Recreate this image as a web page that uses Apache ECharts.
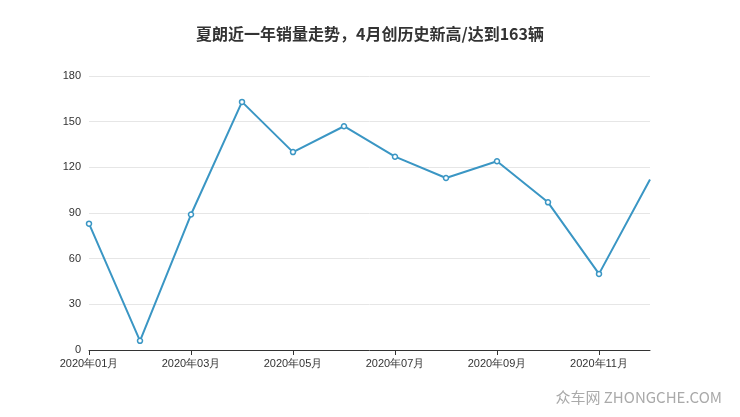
<!DOCTYPE html>
<html><head><meta charset="utf-8">
<script src="https://cdn.jsdelivr.net/npm/echarts@6/dist/echarts.min.js"></script>
<style>html,body{margin:0;padding:0;background:#fff}#c{width:740px;height:417px}</style>
</head><body><div id="c"></div>
<script>
const categories=['2020年01月','2020年02月','2020年03月','2020年04月','2020年05月','2020年06月','2020年07月','2020年08月','2020年09月','2020年10月','2020年11月','2020年12月'];
const sales=[83,6,89,163,130,147,127,113,124,97,50,112];
const chart=echarts.init(document.getElementById('c'));
chart.setOption({
  animation:false,
  title:{text:'夏朗近一年销量走势，4月创历史新高/达到163辆',left:'center',top:21,textStyle:{fontSize:16,fontWeight:'bold',color:'#333',fontFamily:'Noto Sans CJK SC'}},
  graphic:[{type:'text',right:18,bottom:12,style:{text:'众车网 ZHONGCHE.COM',fill:'#aaa',fontSize:15,fontFamily:'Noto Sans CJK SC'}}],
  grid:{left:89,right:90,top:76,bottom:67},
  xAxis:{type:'category',data:categories,boundaryGap:false,
    axisLine:{lineStyle:{color:'#333'}},axisTick:{interval:1,lineStyle:{color:'#333'}},
    axisLabel:{interval:1,color:'#333',fontSize:11}},
  yAxis:{type:'value',min:0,max:180,interval:30,axisLine:{show:false},axisTick:{show:false},
    axisLabel:{color:'#333',fontSize:11},splitLine:{lineStyle:{color:'#e6e6e6'}}},
  series:[{type:'line',data:sales,symbol:'circle',symbolSize:5,showAllSymbol:true,
    symbolSize:(v,p)=>p.dataIndex===sales.length-1?0:5,
    lineStyle:{color:'#3a96c4',width:2},itemStyle:{color:'#fff',borderColor:'#3a96c4',borderWidth:1.5}}]
});
</script></body></html>
